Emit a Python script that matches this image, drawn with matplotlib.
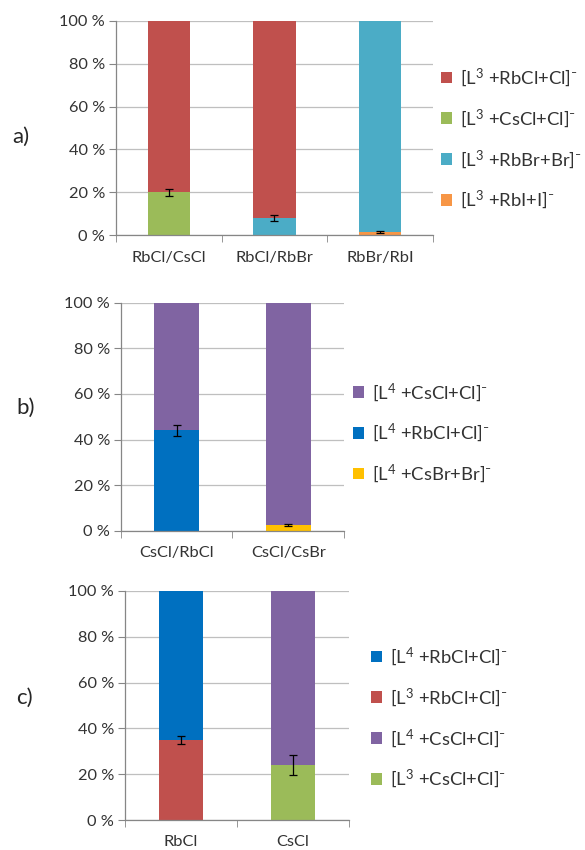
import matplotlib
matplotlib.use("Agg")
import matplotlib.pyplot as plt
import numpy as np
from matplotlib.patches import Patch

plt.rcParams['font.family'] = ['Lato', 'DejaVu Sans']
plt.rcParams['mathtext.fontset'] = 'custom'
plt.rcParams['mathtext.rm'] = 'Lato'
plt.rcParams['mathtext.it'] = 'Lato:italic'
plt.rcParams['mathtext.fallback'] = 'stixsans'

RED = '#C0504D'
GREEN = '#9BBB59'
CYAN = '#4BACC6'
ORANGE = '#F79646'
PURPLE = '#8064A2'
BLUE = '#0070C0'
YELLOW = '#FFC000'
TEXT = '#333333'

# ---- panel a) ----
cats_a = ['RbCl/CsCl', 'RbCl/RbBr', 'RbBr/RbI']
a_rbi = [0, 0, 1.5]
a_rbbr = [0, 8, 98.5]
a_cscl = [20, 0, 0]
a_rbcl = [80, 92, 0]
a_rbi_err = [0, 0, 0.3]
a_rbbr_err = [0, 1.4, 0]
a_cscl_err = [1.7, 0, 0]
a_rbcl_err = [0, 0, 0]
labels_a = [r'[L$^3$ +RbI+I]⁻', r'[L$^3$ +RbBr+Br]⁻',
            r'[L$^3$ +CsCl+Cl]⁻', r'[L$^3$ +RbCl+Cl]⁻']

# ---- panel b) ----
cats_b = ['CsCl/RbCl', 'CsCl/CsBr']
b_csbr = [0, 2.5]
b_rbcl = [44, 0]
b_cscl = [56, 97.5]
b_csbr_err = [0, 0.4]
b_rbcl_err = [2.5, 0]
b_cscl_err = [0, 0]
labels_b = [r'[L$^4$ +CsBr+Br]⁻', r'[L$^4$ +RbCl+Cl]⁻', r'[L$^4$ +CsCl+Cl]⁻']

# ---- panel c) ----
cats_c = ['RbCl', 'CsCl']
c_l3cscl = [0, 24]
c_l4cscl = [0, 76]
c_l3rbcl = [35, 0]
c_l4rbcl = [65, 0]
c_l3cscl_err = [0, 4.2]
c_l4cscl_err = [0, 0]
c_l3rbcl_err = [1.7, 0]
c_l4rbcl_err = [0, 0]
labels_c = [r'[L$^3$ +CsCl+Cl]⁻', r'[L$^4$ +CsCl+Cl]⁻',
            r'[L$^3$ +RbCl+Cl]⁻', r'[L$^4$ +RbCl+Cl]⁻']

W, H = 585, 850
fig = plt.figure(figsize=(W / 100, H / 100), dpi=100)


def px_axes(left, right, top, bottom):
    return fig.add_axes([left / W, 1 - bottom / H, (right - left) / W, (bottom - top) / H])


def stacked(ax, cats, series, errors, colors, labels, leg_x, leg_y, letter, letter_xy):
    x = np.arange(len(cats))
    bottom = np.zeros(len(cats))
    handles = []
    for vals, errs, col in zip(series, errors, colors):
        vals = np.asarray(vals, float)
        ax.bar(x, vals, width=0.4, bottom=bottom, color=col, zorder=2)
        top = bottom + vals
        m = (vals > 0) & (np.asarray(errs) > 0)
        if m.any():
            ax.errorbar(x[m], top[m], yerr=np.asarray(errs)[m], fmt='none',
                        ecolor='black', elinewidth=0.9, capsize=3, capthick=0.9, zorder=3)
        bottom = top
        handles.append(Patch(facecolor=col, edgecolor='none'))
    ax.set_xlim(-0.5, len(cats) - 0.5)
    ax.set_ylim(0, 100)
    ax.set_yticks(np.arange(0, 101, 20))
    ax.set_yticklabels([f'{v} %' for v in range(0, 101, 20)], fontsize=11.8, color=TEXT)
    ax.set_xticks(x)
    ax.set_xticklabels(cats, fontsize=11.8, color=TEXT)
    ax.set_xticks(np.arange(len(cats) + 1) - 0.5, minor=True)
    ax.tick_params(axis='x', which='major', length=0, pad=11)
    ax.tick_params(axis='x', which='minor', length=5, color='#868686', direction='out')
    ax.tick_params(axis='y', length=5, color='#868686', direction='out', pad=3)
    ax.yaxis.grid(True, color='#BFBFBF', linewidth=0.9, zorder=0)
    ax.set_axisbelow(True)
    for s in ['top', 'right']:
        ax.spines[s].set_visible(False)
    for s in ['left', 'bottom']:
        ax.spines[s].set_color('#868686')
        ax.spines[s].set_linewidth(0.9)
    fig.legend(handles[::-1], labels[::-1], loc='center left',
               bbox_to_anchor=(leg_x / W, 1 - leg_y / H), frameon=False,
               fontsize=13.3, labelcolor=TEXT, handlelength=0.6, handleheight=0.6,
               handletextpad=0.45, labelspacing=0.98, borderpad=0, borderaxespad=0)
    fig.text(letter_xy[0] / W, 1 - letter_xy[1] / H, letter, fontsize=16,
             color='#262626', ha='left', va='center')


ax_a = px_axes(116, 433, 20.7, 235.3)
stacked(ax_a, cats_a, [a_rbi, a_rbbr, a_cscl, a_rbcl],
        [a_rbi_err, a_rbbr_err, a_cscl_err, a_rbcl_err],
        [ORANGE, CYAN, GREEN, RED], labels_a, 441, 139, 'a)', (12, 137))

ax_b = px_axes(121, 344, 302.7, 530.7)
stacked(ax_b, cats_b, [b_csbr, b_rbcl, b_cscl],
        [b_csbr_err, b_rbcl_err, b_cscl_err],
        [YELLOW, BLUE, PURPLE], labels_b, 353, 433, 'b)', (16, 408))

ax_c = px_axes(125, 349, 591, 820)
stacked(ax_c, cats_c, [c_l3cscl, c_l4cscl, c_l3rbcl, c_l4rbcl],
        [c_l3cscl_err, c_l4cscl_err, c_l3rbcl_err, c_l4rbcl_err],
        [GREEN, PURPLE, RED, BLUE], labels_c, 371, 718, 'c)', (16, 698))

fig.savefig('out.png', dpi=100, facecolor='white')
